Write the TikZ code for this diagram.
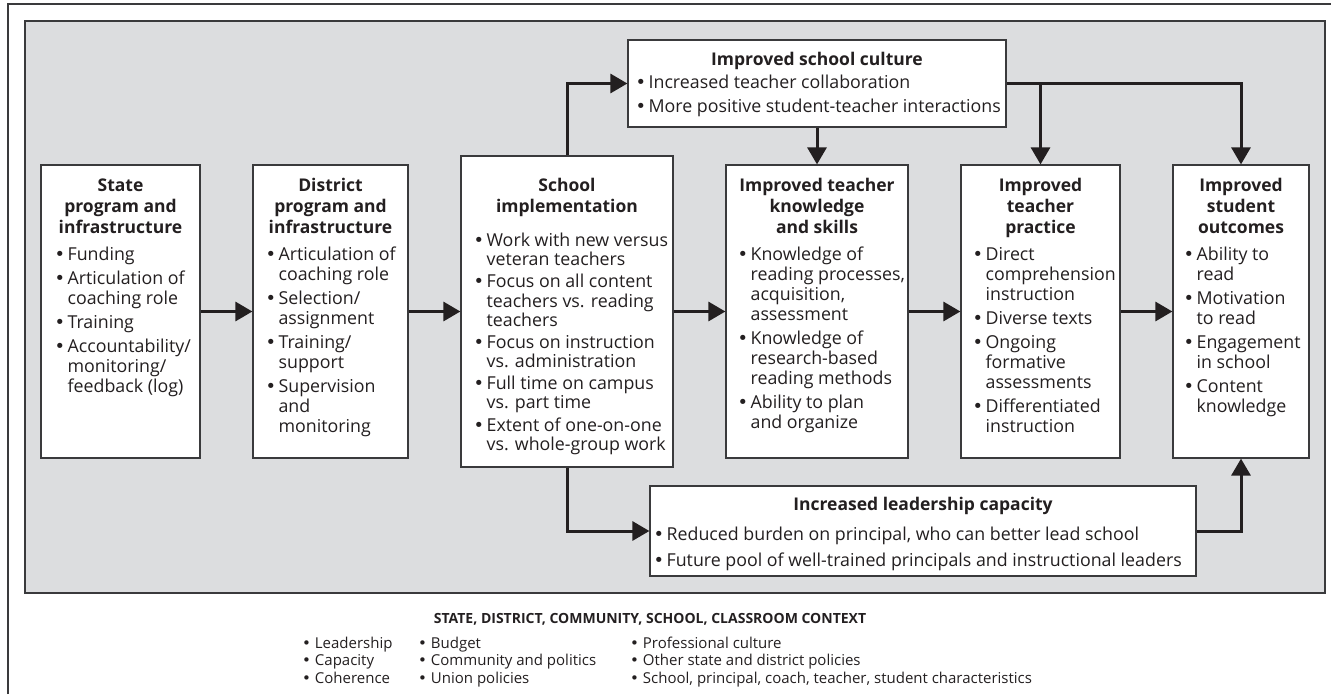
\documentclass[tikz,border=0pt]{standalone}
\usepackage{fontspec}
\setmainfont{Open Sans}
\newfontfamily\dotfont{DejaVu Sans}
\usetikzlibrary{arrows.meta}

\definecolor{panelfill}{HTML}{DCDDDF}
\definecolor{ink}{HTML}{231F20}
\definecolor{rulegray}{HTML}{3A3A3C}

% type sizes
\newcommand{\bodyfont}{\fontsize{17.8}{20}\selectfont}
\newcommand{\schoolfont}{\fontsize{17.8}{18.7}\selectfont}
\newcommand{\headfont}{\fontsize{17.5}{21}\selectfont\bfseries}
\newcommand{\legfont}{\fontsize{15}{17.5}\selectfont}
\newcommand{\legheadfont}{\fontsize{14}{16}\selectfont\bfseries}

% bullet glyph, bullet column and item separation
\newcommand{\dotmark}{{\dotfont\char"2022}}
\newcommand{\bu}{\makebox[13pt][l]{\dotmark}}
\newcommand{\nx}{\\[4pt]}
\newenvironment{blist}{\begin{tabular}[t]{@{}l@{}l@{}}}{\end{tabular}}
\newenvironment{hlines}{\begin{tabular}[t]{@{}c@{}}}{\end{tabular}}

\begin{document}
\begin{tikzpicture}[x=1pt,y=-1pt,
  panelbox/.style={draw=rulegray, line width=1.5pt, fill=panelfill, inner sep=0pt},
  box/.style={draw=rulegray, line width=1.2pt, fill=white, inner sep=0pt},
  headtxt/.style={anchor=base, inner sep=0pt, font=\headfont, text=ink},
  listtxt/.style={anchor=base west, inner sep=0pt, font=\bodyfont, text=ink},
  legtxt/.style={anchor=base west, inner sep=0pt, font=\legfont, text=ink},
  arr/.style={draw=ink, line width=3pt, line join=miter,
              -{Triangle[length=17pt,width=19pt]}}]

\useasboundingbox (0,0) rectangle (1331,694);

% outer frame (open at the right and bottom)
\draw[rulegray, line width=1.5pt] (8,694) -- (8,4) -- (1331,4);

% grey panel
\node[panelbox, minimum width=1300pt, minimum height=572pt] (panel) at (675,307) {};

% main boxes
\node[box, minimum width=159pt, minimum height=293pt] (state)    at (120.5,311.5) {};
\node[box, minimum width=155pt, minimum height=293pt] (district) at (330.5,311.5) {};
\node[box, minimum width=212pt, minimum height=311pt] (school)   at (567,311.5) {};
\node[box, minimum width=182pt, minimum height=293pt] (know)     at (817,311.5) {};
\node[box, minimum width=159pt, minimum height=293pt] (practice) at (1040.5,311.5) {};
\node[box, minimum width=136pt, minimum height=293pt] (outcomes) at (1241,311.5) {};
\node[box, minimum width=378pt, minimum height=87pt]  (culture)  at (817,83.5) {};
\node[box, minimum width=546pt, minimum height=90pt]  (leader)   at (923,531) {};

% state
\node[headtxt] (stateH) at ([yshift=-27pt]state.north)
  {\begin{hlines}State\\program and\\infrastructure\end{hlines}};
\node[listtxt] (stateL) at ([xshift=14pt,yshift=-96pt]state.north west)
  {\begin{blist}
   \bu & Funding\nx
   \bu & Articulation of\\ & coaching role\nx
   \bu & Training\nx
   \bu & Accountability/\\ & monitoring/\\ & feedback (log)
   \end{blist}};

% district
\node[headtxt] (districtH) at ([yshift=-27pt]district.north)
  {\begin{hlines}District\\program and\\infrastructure\end{hlines}};
\node[listtxt] (districtL) at ([xshift=13pt,yshift=-96pt]district.north west)
  {\begin{blist}
   \bu & Articulation of\\ & coaching role\nx
   \bu & Selection/\\ & assignment\nx
   \bu & Training/\\ & support\nx
   \bu & Supervision\\ & and\\ & monitoring
   \end{blist}};

% school
\node[headtxt] (schoolH) at ([yshift=-36pt]school.north)
  {\begin{hlines}School\\implementation\end{hlines}};
\node[listtxt, font=\schoolfont] (schoolL) at ([xshift=13pt,yshift=-91pt]school.north west)
  {\begin{blist}
   \bu & Work with new versus\\ & veteran teachers\\[3.3pt]
   \bu & Focus on all content\\ & teachers vs. reading\\ & teachers\\[3.3pt]
   \bu & Focus on instruction\\ & vs. administration\\[3.3pt]
   \bu & Full time on campus\\ & vs. part time\\[3.3pt]
   \bu & Extent of one-on-one\\ & vs. whole-group work
   \end{blist}};

% teacher knowledge
\node[headtxt] (knowH) at ([yshift=-27pt]know.north)
  {\begin{hlines}Improved teacher\\knowledge\\and skills\end{hlines}};
\node[listtxt] (knowL) at ([xshift=12pt,yshift=-96pt]know.north west)
  {\begin{blist}
   \bu & Knowledge of\\ & reading processes,\\ & acquisition,\\ & assessment\nx
   \bu & Knowledge of\\ & research-based\\ & reading methods\nx
   \bu & Ability to plan\\ & and organize
   \end{blist}};

% teacher practice
\node[headtxt] (practiceH) at ([yshift=-27pt]practice.north)
  {\begin{hlines}Improved\\teacher\\practice\end{hlines}};
\node[listtxt] (practiceL) at ([xshift=12pt,yshift=-96pt]practice.north west)
  {\begin{blist}
   \bu & Direct\\ & comprehension\\ & instruction\nx
   \bu & Diverse texts\nx
   \bu & Ongoing\\ & formative\\ & assessments\nx
   \bu & Differentiated\\ & instruction
   \end{blist}};

% student outcomes
\node[headtxt] (outcomesH) at ([yshift=-27pt]outcomes.north)
  {\begin{hlines}Improved\\student\\outcomes\end{hlines}};
\node[listtxt] (outcomesL) at ([xshift=11pt,yshift=-96pt]outcomes.north west)
  {\begin{blist}
   \bu & Ability to\\ & read\nx
   \bu & Motivation\\ & to read\nx
   \bu & Engagement\\ & in school\nx
   \bu & Content\\ & knowledge
   \end{blist}};

% school culture
\node[headtxt] (cultureH) at ([yshift=-26pt]culture.north) {Improved school culture};
\node[listtxt] (cultureL) at ([xshift=8pt,yshift=-49pt]culture.north west)
  {\begin{blist}
   \bu & Increased teacher collaboration\nx
   \bu & More positive student-teacher interactions
   \end{blist}};

% leadership capacity
\node[headtxt] (leaderH) at ([yshift=-25pt]leader.north) {Increased leadership capacity};
\node[listtxt] (leaderL) at ([xshift=4pt,yshift=-55pt]leader.north west)
  {\begin{blist}
   \bu & Reduced burden on principal, who can better lead school\\[6pt]
   \bu & Future pool of well-trained principals and instructional leaders
   \end{blist}};

% connectors
\draw[arr] (state.east) -- (district.west);
\draw[arr] (district.east) -- (school.west);
\draw[arr] (school.east) -- (know.west);
\draw[arr] (know.east) -- (practice.west);
\draw[arr] (practice.east) -- (outcomes.west);
\draw[arr] (school.north) |- (culture.west);
\draw[arr] (culture.south) -- (know.north);
\draw[arr] (culture.east) -| (outcomes.north);
\coordinate (split) at (culture.east -| practice.north);
\draw[arr] (split) -- (practice.north);
\draw[arr] (school.south) |- (leader.west);
\draw[arr] (leader.east) -| (outcomes.south);

% context legend
\node[anchor=base, inner sep=0pt, font=\legheadfont, text=ink] (ctx) at (650,623)
  {STATE, DISTRICT, COMMUNITY, SCHOOL, CLASSROOM CONTEXT};
\node[legtxt] (ctxA) at (302,648)
  {\begin{tabular}[t]{@{}l@{}}\dotmark\ Leadership\\\dotmark\ Capacity\\\dotmark\ Coherence\end{tabular}};
\node[legtxt] (ctxB) at (418,648)
  {\begin{tabular}[t]{@{}l@{}}\dotmark\ Budget\\\dotmark\ Community and politics\\\dotmark\ Union policies\end{tabular}};
\node[legtxt] (ctxC) at (630,648)
  {\begin{tabular}[t]{@{}l@{}}\dotmark\ Professional culture\\\dotmark\ Other state and district policies\\\dotmark\ School, principal, coach, teacher, student characteristics\end{tabular}};

\end{tikzpicture}
\end{document}
